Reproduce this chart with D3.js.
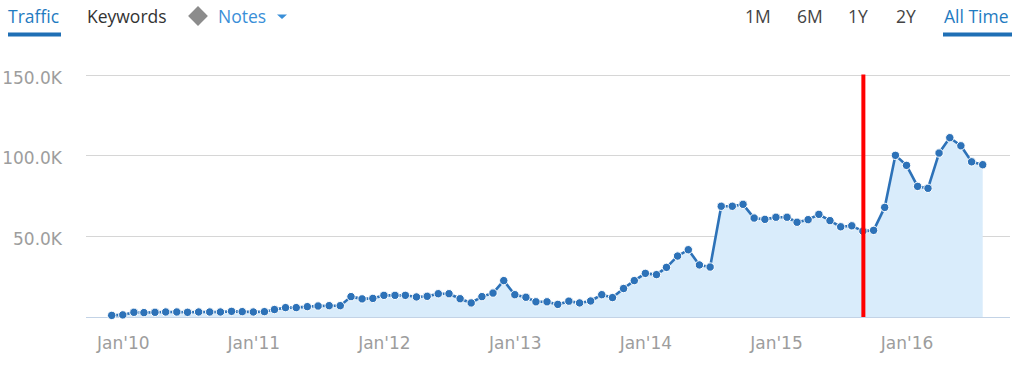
<!DOCTYPE html>
<html>
<head>
<meta charset="utf-8">
<script src="https://cdn.jsdelivr.net/npm/d3@7"></script>
<style>
  html, body { margin: 0; padding: 0; background: #ffffff; }
  svg { display: block; }
</style>
</head>
<body>
<svg id="chart" width="1024" height="366"></svg>
<script>
// ---- data ----
const startMonth = "2009-12";
const trafficK = [
  1.0, 1.3, 2.9, 2.7, 2.9, 3.1, 3.1, 2.9, 3.1, 3.1, 3.1, 3.5, 3.3,
  3.1, 3.3, 4.6, 5.8, 5.8, 6.4, 6.8, 7.0, 7.0, 12.6, 11.2, 11.5,
  13.4, 13.4, 13.4, 12.4, 12.8, 14.4, 14.4, 11.3, 8.7, 12.6, 14.8, 22.5,
  13.8, 12.2, 9.4, 9.4, 7.8, 9.8, 8.7, 9.9, 13.8, 12.0, 17.6, 22.5,
  27.0, 26.2, 30.7, 37.7, 41.6, 32.2, 30.9, 68.5, 68.5, 69.7, 61.2, 60.4,
  61.7, 61.7, 58.6, 60.2, 63.5, 59.6, 55.8, 56.4, 53.1, 53.6, 67.8, 100.0,
  93.8, 80.8, 79.6, 101.4, 110.9, 105.9, 96.0, 94.2
];
const yTicks = [50000, 100000, 150000];
const xTickYears = [2010, 2011, 2012, 2013, 2014, 2015, 2016];
const noteDate = "2015-09-01";
const leftTabs = ["Traffic", "Keywords", "Notes"];
const rightTabs = ["1M", "6M", "1Y", "2Y", "All Time"];

// ---- build ----
const parseMonth = d3.timeParse("%Y-%m");
const t0 = parseMonth(startMonth);
const data = trafficK.map((v, i) => ({ date: d3.timeMonth.offset(t0, i), value: v * 1000 }));

const svg = d3.select("#chart");
const font = "'DejaVu Sans', Verdana, sans-serif";
const hFont = "'Open Sans', 'Noto Sans', sans-serif";

const x = d3.scaleTime()
  .domain([data[0].date, data[data.length - 1].date])
  .range([111.7, 982.7]);
const y = d3.scaleLinear().domain([0, 150000]).range([317, 74.5]);
const gridX0 = 86, gridX1 = 1010;

// gridlines
svg.append("g").selectAll("line").data(yTicks).join("line")
  .attr("x1", gridX0).attr("x2", gridX1)
  .attr("y1", d => Math.round(y(d)) + 0.5).attr("y2", d => Math.round(y(d)) + 0.5)
  .attr("stroke", "#d6d6d6").attr("stroke-width", 1);

// y axis labels
const yAxis = d3.axisLeft(y).tickValues(yTicks).tickSize(0).tickPadding(24)
  .tickFormat(d => (d / 1000).toFixed(1) + "K");
const gy = svg.append("g").attr("transform", `translate(${gridX0},0)`).call(yAxis);
gy.select(".domain").remove();
gy.selectAll("text").attr("font-family", font).attr("font-size", 17)
  .attr("fill", "#9d9d9d").attr("dy", "0.5em");

// area
const area = d3.area().x(d => x(d.date)).y0(y(0)).y1(d => y(d.value));
svg.append("path").datum(data).attr("d", area).attr("fill", "#d9ecfb");

// baseline
svg.append("line").attr("x1", gridX0).attr("x2", gridX1)
  .attr("y1", y(0) + 0.5).attr("y2", y(0) + 0.5)
  .attr("stroke", "#c3d3e6").attr("stroke-width", 1);

// x axis labels
const xAxis = d3.axisBottom(x)
  .tickValues(xTickYears.map(yr => new Date(yr, 0, 1)))
  .tickSize(0).tickPadding(20)
  .tickFormat(d => "Jan'" + d3.timeFormat("%y")(d));
const gx = svg.append("g").attr("transform", `translate(0,${y(0)})`).call(xAxis);
gx.select(".domain").remove();
gx.selectAll("text").attr("font-family", font).attr("font-size", 17).attr("fill", "#9d9d9d");

// line
const line = d3.line().x(d => x(d.date)).y(d => y(d.value));
svg.append("path").datum(data).attr("d", line)
  .attr("fill", "none").attr("stroke", "#2d72b8").attr("stroke-width", 2.6)
  .attr("stroke-linejoin", "round");

// dots
svg.append("g").selectAll("circle").data(data).join("circle")
  .attr("cx", d => x(d.date)).attr("cy", d => y(d.value)).attr("r", 4.2)
  .attr("fill", "#2d72b8").attr("stroke", "#ffffff").attr("stroke-width", 1);

// note line
const nx = x(d3.timeParse("%Y-%m-%d")(noteDate)) + 0.5;
svg.append("line").attr("x1", nx).attr("x2", nx)
  .attr("y1", y(150000)).attr("y2", y(0))
  .attr("stroke", "#ff0000").attr("stroke-width", 4);

// header
const header = svg.append("g").attr("font-family", hFont).attr("font-size", 17.5);
header.append("text").attr("x", 8).attr("y", 23).attr("fill", "#1f7bc1").text(leftTabs[0]);
header.append("rect").attr("x", 8).attr("y", 32.5).attr("width", 53).attr("height", 4).attr("fill", "#1f6fb5");
header.append("text").attr("x", 87).attr("y", 23).attr("fill", "#333333").text(leftTabs[1]);
header.append("rect").attr("x", 191).attr("y", 9).attr("width", 14).attr("height", 14)
  .attr("transform", "rotate(45 198 16)").attr("fill", "#8c8c8c");
header.append("text").attr("x", 218).attr("y", 23).attr("fill", "#3a8fd8").text(leftTabs[2]);
header.append("path").attr("d", "M277,14.5 L287,14.5 L282,19 Z").attr("fill", "#3a8fd8");

const rightX = [745, 797, 848, 896, 944];
rightTabs.forEach((t, i) => {
  header.append("text").attr("x", rightX[i]).attr("y", 23)
    .attr("fill", i === rightTabs.length - 1 ? "#1f7bc1" : "#444444").text(t);
});
header.append("rect").attr("x", 943).attr("y", 32.5).attr("width", 69).attr("height", 4).attr("fill", "#1f6fb5");
</script>
</body>
</html>
